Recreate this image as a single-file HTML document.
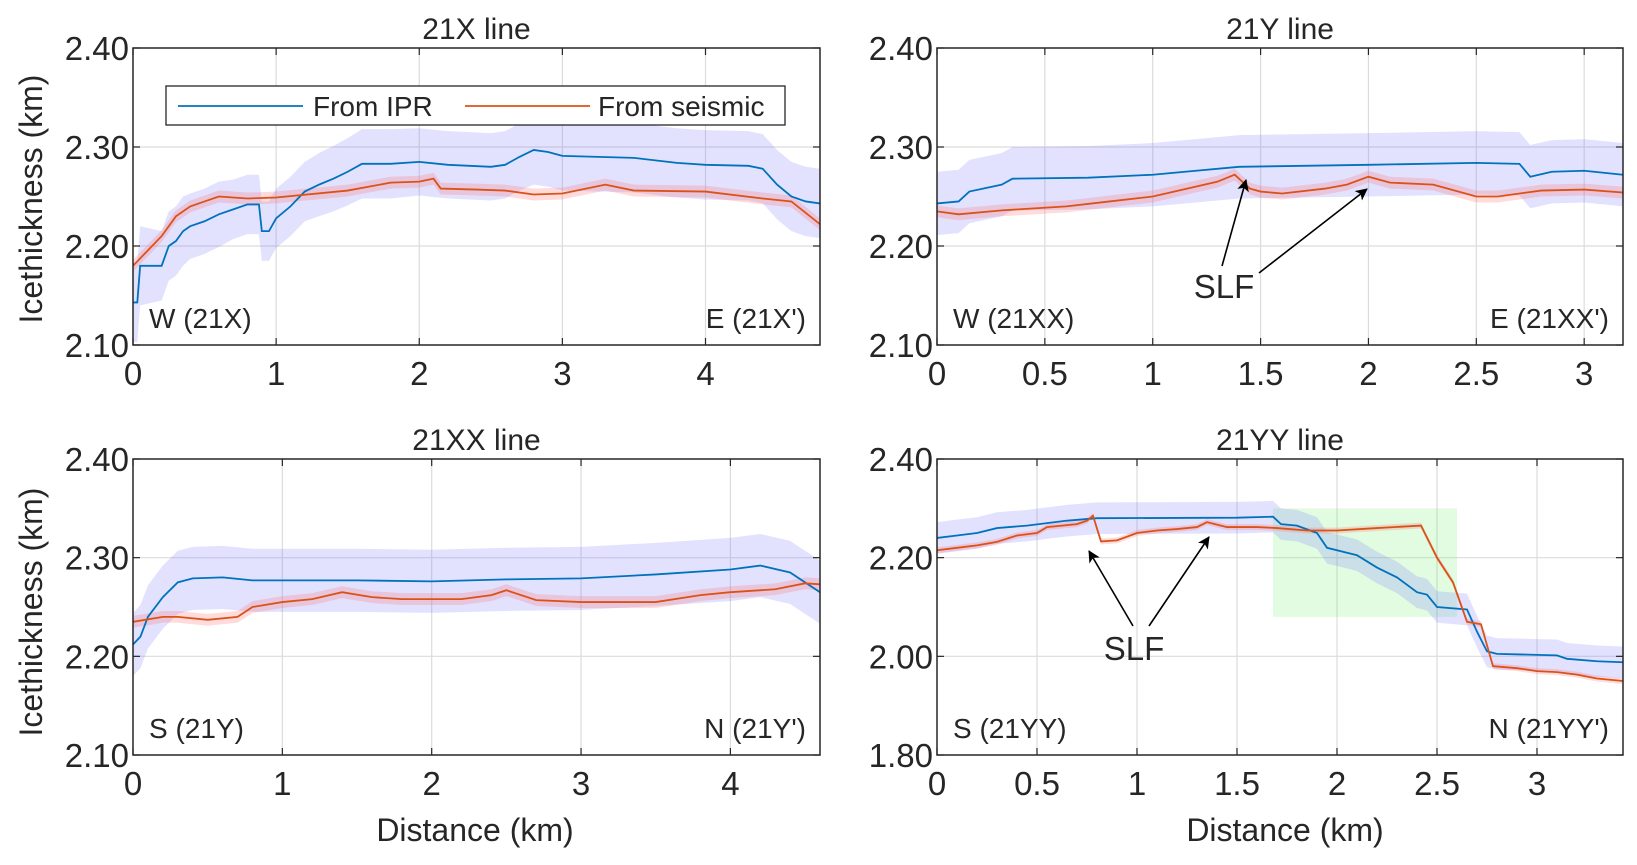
<!DOCTYPE html>
<html><head><meta charset="utf-8"><style>
body{margin:0;background:#fff}
svg text{font-family:"Liberation Sans",Arial,sans-serif;fill:#262626}
</style></head><body>
<svg id="c" width="1637" height="860" viewBox="0 0 1637 860" xmlns="http://www.w3.org/2000/svg"></svg>
<script>
// ---- data ----
const p1IprX=[0,0.03,0.05,0.2,0.25,0.3,0.35,0.4,0.5,0.6,0.7,0.8,0.88,0.9,0.95,1.0,1.1,1.2,1.3,1.4,1.5,1.6,1.8,2.0,2.2,2.5,2.6,2.7,2.8,2.9,3.0,3.5,3.8,4.0,4.3,4.4,4.5,4.6,4.7,4.8];
const p1IprY=[2.143,2.143,2.18,2.18,2.2,2.205,2.215,2.22,2.225,2.232,2.237,2.242,2.242,2.215,2.215,2.228,2.24,2.255,2.262,2.268,2.275,2.283,2.283,2.285,2.282,2.28,2.282,2.29,2.297,2.295,2.291,2.289,2.284,2.282,2.281,2.278,2.262,2.25,2.245,2.243];
const p1IprErr=[0.04,0.04,0.04,0.035,0.035,0.035,0.035,0.033,0.033,0.033,0.03,0.03,0.03,0.03,0.03,0.03,0.03,0.03,0.032,0.033,0.034,0.035,0.035,0.034,0.034,0.034,0.034,0.034,0.035,0.035,0.035,0.035,0.035,0.035,0.035,0.035,0.035,0.035,0.035,0.035];
const p1SeisX=[0,0.1,0.2,0.3,0.4,0.5,0.6,0.8,1.0,1.5,1.8,2.0,2.1,2.15,2.4,2.6,2.8,3.0,3.3,3.5,4.0,4.4,4.6,4.8];
const p1SeisY=[2.18,2.195,2.21,2.23,2.24,2.245,2.25,2.248,2.249,2.256,2.264,2.265,2.268,2.258,2.257,2.256,2.252,2.253,2.262,2.256,2.255,2.248,2.245,2.222];

const p2IprX=[0,0.1,0.15,0.3,0.35,0.7,1.0,1.2,1.4,1.7,2.0,2.5,2.7,2.75,2.85,3.0,3.18];
const p2IprY=[2.243,2.245,2.255,2.262,2.268,2.269,2.272,2.276,2.28,2.281,2.282,2.284,2.283,2.27,2.275,2.276,2.272];
const p2SeisX=[0,0.1,0.3,0.6,0.8,1.0,1.2,1.3,1.38,1.45,1.5,1.6,1.8,1.9,2.0,2.1,2.3,2.5,2.6,2.8,3.0,3.18];
const p2SeisY=[2.235,2.232,2.236,2.24,2.245,2.25,2.26,2.265,2.272,2.258,2.255,2.253,2.258,2.262,2.27,2.264,2.262,2.25,2.25,2.256,2.257,2.254];

const p3IprX=[0,0.05,0.1,0.2,0.3,0.4,0.6,0.8,1.5,2.0,2.5,3.0,3.5,4.0,4.2,4.4,4.5,4.6];
const p3IprY=[2.212,2.22,2.24,2.26,2.275,2.279,2.28,2.277,2.277,2.276,2.278,2.279,2.283,2.288,2.292,2.285,2.275,2.265];
const p3SeisX=[0,0.2,0.3,0.5,0.7,0.8,1.0,1.2,1.4,1.6,1.8,2.0,2.2,2.4,2.5,2.7,3.0,3.5,3.8,4.0,4.3,4.5,4.6];
const p3SeisY=[2.235,2.24,2.24,2.237,2.24,2.25,2.255,2.258,2.265,2.26,2.258,2.258,2.258,2.262,2.267,2.257,2.255,2.255,2.262,2.265,2.268,2.274,2.273];

const p4IprX=[0,0.1,0.2,0.3,0.45,0.55,0.65,0.8,1.5,1.68,1.72,1.8,1.9,1.95,2.05,2.1,2.2,2.3,2.4,2.45,2.5,2.65,2.7,2.75,2.8,3.0,3.1,3.15,3.3,3.43];
const p4IprY=[2.24,2.245,2.25,2.26,2.265,2.27,2.275,2.28,2.281,2.283,2.268,2.265,2.25,2.22,2.21,2.205,2.18,2.16,2.13,2.125,2.1,2.095,2.05,2.01,2.005,2.003,2.002,1.995,1.99,1.988];
const p4SeisX=[0,0.1,0.2,0.3,0.4,0.5,0.55,0.7,0.75,0.78,0.82,0.9,1.0,1.1,1.2,1.3,1.35,1.45,1.6,1.7,1.85,2.0,2.2,2.42,2.5,2.58,2.65,2.72,2.78,2.9,3.0,3.1,3.2,3.3,3.43];
const p4SeisY=[2.215,2.22,2.225,2.232,2.245,2.25,2.262,2.268,2.275,2.285,2.233,2.235,2.25,2.255,2.258,2.262,2.272,2.262,2.262,2.26,2.255,2.255,2.26,2.265,2.2,2.15,2.07,2.065,1.98,1.976,1.97,1.968,1.963,1.955,1.95];

const yTicksTop=[2.10,2.20,2.30,2.40];
const yTicks4=[1.80,2.00,2.20,2.40];
const xTicksKm=[0,1,2,3,4];
const xTicksHalf=[0,0.5,1,1.5,2,2.5,3];

// ---- drawing ----
const NS="http://www.w3.org/2000/svg";
const svg=document.getElementById('c');
function mk(tag,attrs,parent){const e=document.createElementNS(NS,tag);for(const k in attrs)e.setAttribute(k,attrs[k]);(parent||svg).appendChild(e);return e;}
function txt(s,x,y,size,anchor,parent){const t=mk('text',{x:x,y:y,'font-size':size,'text-anchor':anchor||'middle'},parent);t.textContent=s;return t;}

function panel(cfg){
  const g=mk('g',{});
  
  
  const L=cfg.L,R=cfg.R,T=cfg.T,B=cfg.B;
  const sx=v=>L+(v-cfg.x0)/(cfg.x1-cfg.x0)*(R-L);
  const sy=v=>B-(v-cfg.y0)/(cfg.y1-cfg.y0)*(B-T);
  const clipId='clip'+cfg.name;
  const cp=mk('clipPath',{id:clipId},g);mk('rect',{x:L,y:T,width:R-L,height:B-T},cp);
  cfg.xt.forEach(v=>{if(v>cfg.x0&&v<cfg.x1){const l=mk('line',{x1:sx(v),x2:sx(v),y1:T,y2:B,stroke:'#dcdcdc','stroke-width':1.2},g);}});
  cfg.yt.forEach(v=>{if(v>cfg.y0&&v<cfg.y1){const l=mk('line',{x1:L,x2:R,y1:sy(v),y2:sy(v),stroke:'#dcdcdc','stroke-width':1.2},g);}});
  const pg=mk('g',{'clip-path':'url(#'+clipId+')'},g);
  if(cfg.box){const b=mk('rect',{x:sx(cfg.box[0]),y:sy(cfg.box[3]),width:sx(cfg.box[1])-sx(cfg.box[0]),height:sy(cfg.box[2])-sy(cfg.box[3]),fill:'rgba(120,240,120,0.22)'},pg);}
  function band(xs,ys,err,fill,name){
    let d='';xs.forEach((x,i)=>{d+=(i?'L':'M')+sx(x)+','+sy(ys[i]+err(i));});
    for(let i=xs.length-1;i>=0;i--)d+='L'+sx(xs[i])+','+sy(ys[i]-err(i));
    const p=mk('path',{d:d+'Z',fill:fill},pg);
  }
  function line(xs,ys,col,name){
    const p=mk('path',{d:xs.map((x,i)=>(i?'L':'M')+sx(x)+','+sy(ys[i])).join(''),fill:'none',stroke:col,'stroke-width':1.8},pg);
    
  }
  band(cfg.bx,cfg.by,i=>cfg.berr?cfg.berr[i]:0.032,'rgba(110,110,255,0.2)','ipr-uncertainty-band');
  band(cfg.rx,cfg.ry,()=>0.006,'rgba(255,110,110,0.25)','seismic-uncertainty-band');
  line(cfg.bx,cfg.by,'#0072BD','ipr-line');
  line(cfg.rx,cfg.ry,'#D95319','seismic-line');
  const ax=mk('rect',{x:L,y:T,width:R-L,height:B-T,fill:'none',stroke:'#262626','stroke-width':1.5},g);
  
  cfg.xt.forEach((v,i)=>{const x=sx(v);mk('line',{x1:x,x2:x,y1:B,y2:B-7,stroke:'#262626','stroke-width':1.2},g);mk('line',{x1:x,x2:x,y1:T,y2:T+7,stroke:'#262626','stroke-width':1.2},g);
    const t=txt(cfg.xl[i],x,B+40,33,'middle',g);});
  cfg.yt.forEach(v=>{const y=sy(v);mk('line',{x1:L,x2:L+7,y1:y,y2:y,stroke:'#262626','stroke-width':1.2},g);mk('line',{x1:R,x2:R-7,y1:y,y2:y,stroke:'#262626','stroke-width':1.2},g);
    const t=txt(v.toFixed(2),L-4,y+12,33,'end',g);});
  const ti=txt(cfg.title,(L+R)/2,T-9,30,'middle',g);
  const c1=txt(cfg.cl,L+16,B-17,28,'start',g);
  const c2=txt(cfg.cr,R-14,B-17,28,'end',g);
  return g;
}
panel({name:'panel-21x',L:133,R:820,T:48,B:345,x0:0,x1:4.8,y0:2.1,y1:2.4,xt:xTicksKm,xl:['0','1','2','3','4'],yt:yTicksTop,title:'21X line',cl:'W (21X)',cr:"E (21X')",bx:p1IprX,by:p1IprY,berr:p1IprErr,rx:p1SeisX,ry:p1SeisY});
panel({name:'panel-21y',L:937,R:1623,T:48,B:345,x0:0,x1:3.18,y0:2.1,y1:2.4,xt:xTicksHalf,xl:['0','0.5','1','1.5','2','2.5','3'],yt:yTicksTop,title:'21Y line',cl:'W (21XX)',cr:"E (21XX')",bx:p2IprX,by:p2IprY,rx:p2SeisX,ry:p2SeisY});
panel({name:'panel-21xx',L:133,R:820,T:459,B:755,x0:0,x1:4.6,y0:2.1,y1:2.4,xt:xTicksKm,xl:['0','1','2','3','4'],yt:yTicksTop,title:'21XX line',cl:'S (21Y)',cr:"N (21Y')",bx:p3IprX,by:p3IprY,rx:p3SeisX,ry:p3SeisY});
panel({name:'panel-21yy',L:937,R:1623,T:459,B:755,x0:0,x1:3.43,y0:1.8,y1:2.4,xt:xTicksHalf,xl:['0','0.5','1','1.5','2','2.5','3'],yt:yTicks4,title:'21YY line',cl:'S (21YY)',cr:"N (21YY')",bx:p4IprX,by:p4IprY,rx:p4SeisX,ry:p4SeisY,box:[1.68,2.6,2.08,2.30]});

// legend
const lg=mk('g',{});


mk('rect',{x:166,y:86,width:619,height:39,fill:'#fff',stroke:'#262626','stroke-width':1.3},lg);
mk('line',{x1:178,x2:303,y1:106,y2:106,stroke:'#0072BD','stroke-width':1.8},lg);
const l1=txt('From IPR',313,116,28,'start',lg);
mk('line',{x1:465,x2:590,y1:106,y2:106,stroke:'#D95319','stroke-width':1.8},lg);
const l2=txt('From seismic',598,116,28,'start',lg);

// axis titles
[[199],[612]].forEach(a=>{const t=txt('Icethickness (km)',0,0,32,'middle');t.setAttribute('transform','translate(42,'+a[0]+') rotate(-90)');

});
[475,1285].forEach(x=>{const t=txt('Distance (km)',x,841,32,'middle');

});

// annotations
const defs=mk('defs',{});
const m=mk('marker',{id:'ah',markerWidth:12,markerHeight:12,refX:11,refY:6,orient:'auto',markerUnits:'userSpaceOnUse'},defs);
mk('path',{d:'M0,0 L12,6 L0,12 L3,6 Z',fill:'#000'},m);
[[1222,266,1246,180],[1259,273,1367,189],[1133,626,1089,551],[1149,626,1209,537]].forEach(a=>{
  const l=mk('line',{x1:a[0],y1:a[1],x2:a[2],y2:a[3],stroke:'#000','stroke-width':1.6,'marker-end':'url(#ah)'});
  
  
});
[[1224,298],[1134,660]].forEach(p=>{const t=txt('SLF',p[0],p[1],33,'middle');t.setAttribute('fill','#000');

});
</script>
</body></html>
